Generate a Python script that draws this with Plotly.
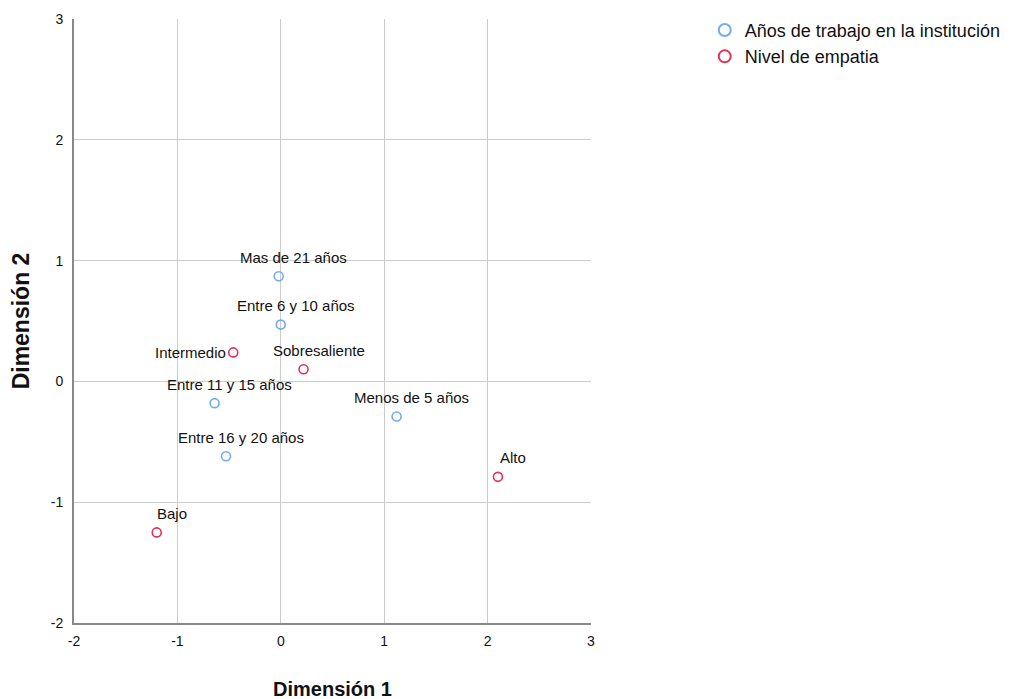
import plotly.graph_objects as go

# coordenadas de las categorías (dimensión 1, dimensión 2)
anios_labels = ["Mas de 21 años", "Entre 6 y 10 años", "Entre 11 y 15 años",
                "Entre 16 y 20 años", "Menos de 5 años"]
anios_d1 = [-0.02, 0.00, -0.64, -0.53, 1.12]
anios_d2 = [0.87, 0.47, -0.18, -0.62, -0.29]

empatia_labels = ["Intermedio", "Sobresaliente", "Alto", "Bajo"]
empatia_d1 = [-0.46, 0.22, 2.10, -1.20]
empatia_d2 = [0.24, 0.10, -0.79, -1.25]

ticks = [-2, -1, 0, 1, 2, 3]
tick_text = ["-2", "-1", "0", "1", "2", "3"]

blue = "#74abee"
red = "#e0325a"
font = "Liberation Sans, Arial, sans-serif"

fig = go.Figure()
fig.add_trace(go.Scatter(x=anios_d1, y=anios_d2, mode="markers",
                         name="Años de trabajo en la institución", legendgroup="a",
                         marker=dict(symbol="circle-open", size=9, color=blue,
                                     line=dict(width=1.6, color=blue))))
fig.add_trace(go.Scatter(x=empatia_d1, y=empatia_d2, mode="markers",
                         name="Nivel de empatia", legendgroup="b",
                         marker=dict(symbol="circle-open", size=9, color=red,
                                     line=dict(width=1.6, color=red))))

# etiquetas de los puntos
for lab, x, y in list(zip(anios_labels, anios_d1, anios_d2)) + list(zip(empatia_labels, empatia_d1, empatia_d2)):
    if lab == "Intermedio":
        fig.add_annotation(x=x, y=y, text=lab, showarrow=False, xanchor="right",
                           yanchor="middle", xshift=-5, yshift=0)
    else:
        fig.add_annotation(x=x, y=y, text=lab, showarrow=False, xanchor="center",
                           yanchor="middle", xshift=15, yshift=19)

# la página añade ~7 px de margen, por eso la figura es algo menor
fig.update_layout(
    width=1007, height=692,
    margin=dict(l=66, r=424, t=11, b=77, autoexpand=False),
    paper_bgcolor="white", plot_bgcolor="white",
    font=dict(family=font, size=15, color="#111"),
    showlegend=True,
    legend=dict(x=1.22, y=1.012, xanchor="left", yanchor="top",
                font=dict(size=18, color="#111"), itemsizing="constant",
                traceorder="grouped", tracegroupgap=0,
                bgcolor="rgba(0,0,0,0)"),
)
fig.update_xaxes(range=[-2, 3], tickvals=ticks, ticktext=tick_text, automargin=False,
                 showgrid=True, gridcolor="#cccccc",
                 gridwidth=1, showline=True, linecolor="#888888", linewidth=2,
                 zeroline=False, ticks="", tickfont=dict(size=14), ticklabelstandoff=4,
                 title=dict(text="<b>Dimensión 1</b>", font=dict(size=20), standoff=34))
fig.update_yaxes(range=[-2, 3], tickvals=ticks, ticktext=tick_text, automargin=False,
                 showgrid=True, gridcolor="#cccccc",
                 gridwidth=1, showline=True, linecolor="#888888", linewidth=2,
                 zeroline=False, ticks="", tickfont=dict(size=14), ticklabelstandoff=6,
                 title=dict(text="<b>Dimensión 2</b>", font=dict(size=23), standoff=17))

fig.write_html("out.html")
